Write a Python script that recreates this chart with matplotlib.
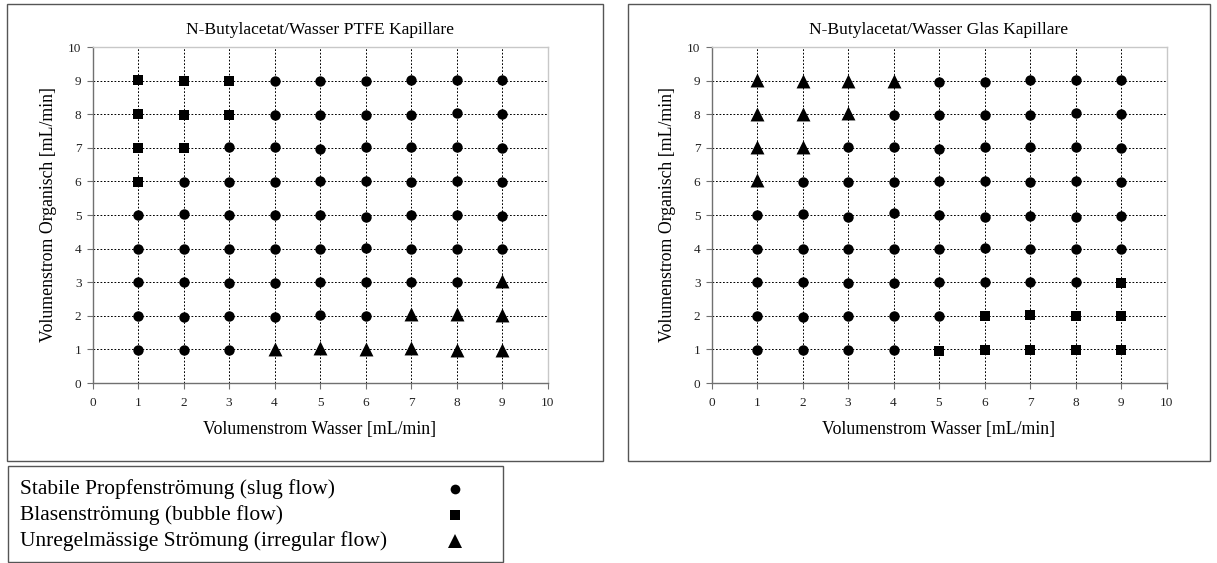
import matplotlib
matplotlib.use("Agg")
import matplotlib.pyplot as plt
from matplotlib.patches import Rectangle
from matplotlib.lines import Line2D

plt.rcParams['font.family'] = ['Liberation Serif', 'DejaVu Serif']

# ---------------- data ----------------
titles = ["N-Butylacetat/Wasser PTFE Kapillare", "N-Butylacetat/Wasser Glas Kapillare"]
xlabel = "Volumenstrom Wasser [mL/min]"
ylabel = "Volumenstrom Organisch [mL/min]"
ticks = [0, 1, 2, 3, 4, 5, 6, 7, 8, 9, 10]
legend_labels = ["Stabile Propfenströmung (slug flow)",
                 "Blasenströmung (bubble flow)",
                 "Unregelmässige Strömung (irregular flow)"]

# PTFE capillary
ptfe_slug_x = [4, 5, 6, 7, 8, 9,
               4, 5, 6, 7, 8, 9,
               3, 4, 5, 6, 7, 8, 9,
               2, 3, 4, 5, 6, 7, 8, 9,
               1, 2, 3, 4, 5, 6, 7, 8, 9,
               1, 2, 3, 4, 5, 6, 7, 8, 9,
               1, 2, 3, 4, 5, 6, 7, 8,
               1, 2, 3, 4, 5, 6,
               1, 2, 3]
ptfe_slug_y = [8.98, 9.00, 8.98, 9.01, 9.01, 9.01,
               7.99, 7.97, 7.99, 7.98, 8.05, 8.02,
               7.01, 7.01, 6.97, 7.02, 7.01, 7.02, 6.99,
               5.97, 5.97, 5.98, 6.00, 6.01, 5.97, 6.01, 5.97,
               5.00, 5.02, 5.01, 5.01, 5.00, 4.95, 4.99, 4.99, 4.97,
               4.00, 3.98, 3.98, 4.00, 4.00, 4.02, 3.98, 3.98, 4.00,
               3.00, 3.00, 2.97, 2.97, 3.00, 3.00, 3.00, 3.02,
               1.98, 1.97, 1.98, 1.97, 2.01, 1.99,
               0.98, 0.98, 0.98]
ptfe_bubble_x = [1, 2, 3, 1, 2, 3, 1, 2, 1]
ptfe_bubble_y = [9.03, 8.98, 9.00, 8.00, 7.98, 7.98, 7.00, 7.00, 5.98]
ptfe_irreg_x = [9, 7, 8, 9, 4, 5, 6, 7, 8, 9]
ptfe_irreg_y = [3.05, 2.05, 2.05, 2.02, 1.00, 1.05, 1.00, 1.05, 0.98, 0.98]

# Glass capillary
glas_slug_x = [5, 6, 7, 8, 9,
               4, 5, 6, 7, 8, 9,
               3, 4, 5, 6, 7, 8, 9,
               2, 3, 4, 5, 6, 7, 8, 9,
               1, 2, 3, 4, 5, 6, 7, 8, 9,
               1, 2, 3, 4, 5, 6, 7, 8, 9,
               1, 2, 3, 4, 5, 6, 7, 8,
               1, 2, 3, 4, 5,
               1, 2, 3, 4]
glas_slug_y = [8.97, 8.97, 9.01, 9.01, 9.01,
               7.98, 7.97, 7.99, 7.98, 8.05, 8.02,
               7.01, 7.01, 6.97, 7.02, 7.01, 7.01, 6.99,
               5.97, 5.97, 5.98, 6.01, 6.01, 5.97, 6.01, 5.97,
               5.00, 5.02, 4.95, 5.05, 5.00, 4.95, 4.97, 4.95, 4.97,
               4.00, 3.98, 3.98, 4.00, 4.00, 4.02, 3.98, 3.98, 4.00,
               3.00, 3.00, 2.97, 2.97, 3.00, 3.00, 3.00, 3.00,
               1.98, 1.97, 1.98, 2.00, 1.98,
               0.98, 0.98, 0.98, 0.98]
glas_bubble_x = [9, 6, 7, 8, 9, 5, 6, 7, 8, 9]
glas_bubble_y = [2.97, 1.98, 2.02, 2.00, 1.98, 0.95, 0.98, 0.98, 0.98, 0.98]
glas_irreg_x = [1, 2, 3, 4, 1, 2, 3, 1, 2, 1]
glas_irreg_y = [9.03, 9.00, 9.00, 9.00, 8.00, 8.00, 8.03, 7.03, 7.03, 6.03]

# ---------------- figure ----------------
W, H = 1217, 563
fig = plt.figure(figsize=(W / 100, H / 100), dpi=100)


def fx(px):
    return px / W


def fy(py):
    return 1 - py / H


def add_box(x0, y0, x1, y1, lw=1.0, color='#555555'):
    fig.patches.append(Rectangle((fx(x0), fy(y1)), fx(x1) - fx(x0), fy(y0) - fy(y1),
                                 transform=fig.transFigure, fill=False,
                                 edgecolor=color, linewidth=lw))


# panel boxes
add_box(7, 4, 603, 461)
add_box(628, 4, 1210, 461)
add_box(8, 466, 503, 562)

panels = [
    (92.5, titles[0], ptfe_slug_x, ptfe_slug_y, ptfe_bubble_x, ptfe_bubble_y, ptfe_irreg_x, ptfe_irreg_y),
    (711.5, titles[1], glas_slug_x, glas_slug_y, glas_bubble_x, glas_bubble_y, glas_irreg_x, glas_irreg_y),
]

for left_px, title, sx, sy, bx, by, tx, ty in panels:
    ax = fig.add_axes([fx(left_px), fy(383), fx(455), fy(47) - fy(383)])
    ax.set_xlim(0, 10)
    ax.set_ylim(0, 10)
    ax.set_xticks(ticks)
    ax.set_yticks(ticks)
    ax.grid(True, color='black', linestyle=(0, (1.8, 1.8)), linewidth=0.7)
    ax.set_axisbelow(True)
    for s in ['top', 'right']:
        ax.spines[s].set_color('#c8c8c8')
        ax.spines[s].set_linewidth(1.0)
    for s in ['left', 'bottom']:
        ax.spines[s].set_color('#707070')
        ax.spines[s].set_linewidth(1.0)
    ax.tick_params(axis='both', direction='out', length=4, width=0.8, color='#707070',
                   labelsize=9.5, labelcolor='#222222')
    ax.tick_params(axis='x', pad=6)
    ax.tick_params(axis='y', pad=4)
    ax.scatter(sx, sy, marker='o', s=56, color='black', zorder=3, linewidths=0)
    ax.scatter(bx, by, marker='s', s=52, color='black', zorder=3, linewidths=0)
    ax.scatter(tx, ty, marker='^', s=100, color='black', zorder=3, linewidths=0)
    ax.set_title(title, fontsize=12.6, pad=9)
    ax.set_xlabel(xlabel, fontsize=12.8, labelpad=9)
    ax.set_ylabel(ylabel, fontsize=12.8, labelpad=8)

# legend block
leg_y = [489, 515, 541]
leg_markers = ['o', 's', '^']
leg_sizes = [7, 7, 10]
for yy, lab, mk, ms in zip(leg_y, legend_labels, leg_markers, leg_sizes):
    fig.text(fx(20), fy(yy), lab, fontsize=15.5, va='center', ha='left')
    fig.lines.append(Line2D([fx(455)], [fy(yy)], marker=mk, markersize=ms, color='black',
                            linestyle='none', markeredgewidth=0, transform=fig.transFigure))

fig.savefig("out.png", dpi=100)
